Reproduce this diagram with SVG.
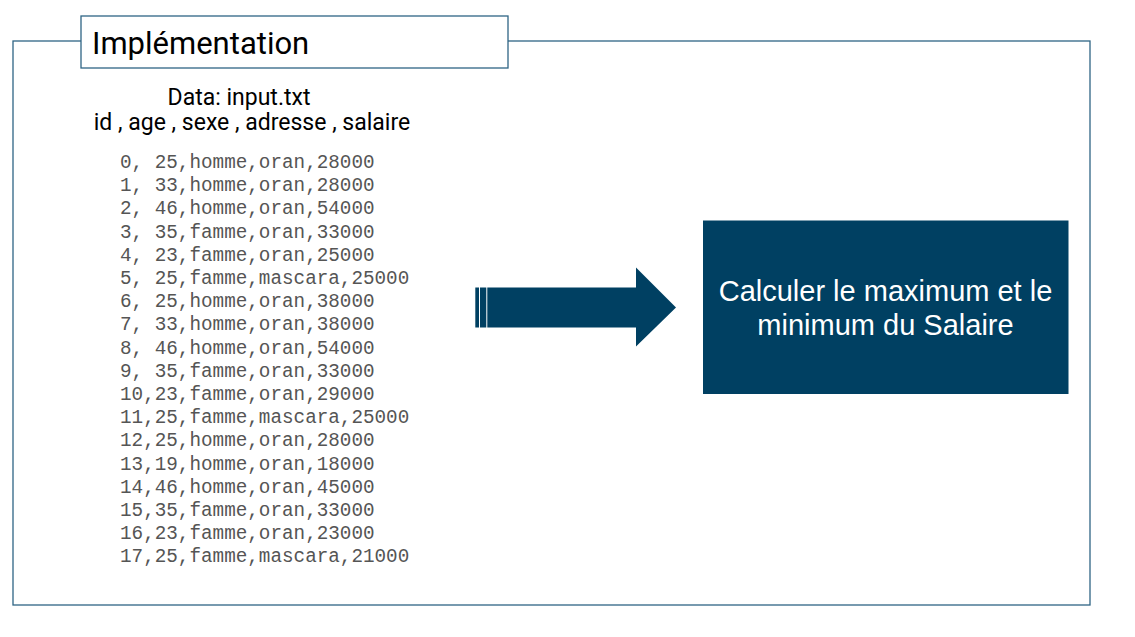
<svg xmlns="http://www.w3.org/2000/svg" width="1135" height="637" viewBox="0 0 1135 637">
<style>
.frame{fill:none;stroke:#2f6585;stroke-width:1.3}
.title{font-family:Roboto,"Liberation Sans",sans-serif;font-size:31px;fill:#000}
.hdr{font-family:Roboto,"Liberation Sans",sans-serif;font-size:23px;fill:#000;text-anchor:middle}
.mono{font-family:"Liberation Mono","DejaVu Sans Mono",monospace;font-size:19.3px;fill:#555;white-space:pre}
.box{fill:#004062}
.boxtxt{font-family:"Liberation Sans",Arial,sans-serif;font-size:29px;fill:#fff;text-anchor:middle}
</style>
<rect width="1135" height="637" fill="#fff"/>
<g id="frame">
<rect class="frame" x="13" y="41" width="1077" height="564"/>
</g>
<g id="title">
<rect x="81" y="16" width="427" height="52" fill="#fff" stroke="#2f6585" stroke-width="1.3"/>
<text class="title" x="92" y="54">Implémentation</text>
</g>
<g id="data">
<text class="hdr" x="239" y="105">Data: input.txt</text>
<text class="hdr" x="252" y="130">id , age , sexe , adresse , salaire</text>
<text class="mono" xml:space="preserve"><tspan x="120" y="168">0, 25,homme,oran,28000</tspan><tspan x="120" y="191.2">1, 33,homme,oran,28000</tspan><tspan x="120" y="214.4">2, 46,homme,oran,54000</tspan><tspan x="120" y="237.6">3, 35,famme,oran,33000</tspan><tspan x="120" y="260.8">4, 23,famme,oran,25000</tspan><tspan x="120" y="284">5, 25,famme,mascara,25000</tspan><tspan x="120" y="307.2">6, 25,homme,oran,38000</tspan><tspan x="120" y="330.4">7, 33,homme,oran,38000</tspan><tspan x="120" y="353.6">8, 46,homme,oran,54000</tspan><tspan x="120" y="376.8">9, 35,famme,oran,33000</tspan><tspan x="120" y="400">10,23,famme,oran,29000</tspan><tspan x="120" y="423.2">11,25,famme,mascara,25000</tspan><tspan x="120" y="446.4">12,25,homme,oran,28000</tspan><tspan x="120" y="469.6">13,19,homme,oran,18000</tspan><tspan x="120" y="492.8">14,46,homme,oran,45000</tspan><tspan x="120" y="516">15,35,famme,oran,33000</tspan><tspan x="120" y="539.2">16,23,famme,oran,23000</tspan><tspan x="120" y="562.4">17,25,famme,mascara,21000</tspan></text>
</g>
<g id="connectors">
<g id="arrow" fill="#004062">
<rect x="475.3" y="287.5" width="3.7" height="40"/>
<rect x="480" y="287.5" width="6.3" height="40"/>
<polygon points="487.3,287.5 636,287.5 636,267.5 676,307.5 636,346.5 636,327.5 487.3,327.5"/>
</g>
</g>
<g id="calc">
<rect class="box" x="703" y="220.5" width="365.5" height="173.5"/>
<text class="boxtxt" x="885.5" y="301">Calculer le maximum et le</text>
<text class="boxtxt" x="885.5" y="335">minimum du Salaire</text>
</g>
</svg>
